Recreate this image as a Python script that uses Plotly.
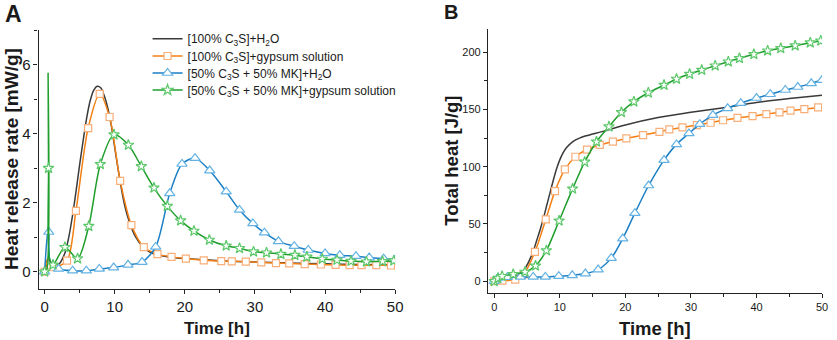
import plotly.graph_objects as go

# ---------------- DATA ----------------
names = ["[100% C<sub>3</sub>S]+H<sub>2</sub>O",
         "[100% C<sub>3</sub>S]+gypsum solution",
         "[50% C<sub>3</sub>S + 50% MK]+H<sub>2</sub>O",
         "[50% C<sub>3</sub>S + 50% MK]+gypsum solution"]

# Panel A: heat release rate [mW/g]
black_t_a = [0, 0.3, 0.5, 0.8, 1.2, 1.7, 2.2, 2.6, 3.0, 3.5, 4.0, 4.5, 5.0, 5.5, 6.0, 6.5, 7.0, 7.5, 8.0,
             8.5, 9.0, 9.5, 10.0, 10.5, 11.0, 11.5, 12.0, 12.5, 13.0, 14.0, 15.0, 16.0, 18.0, 20.0, 25.0,
             30.0, 35.0, 40.0, 45.0, 50.0]
black_a = [0, 0.25, 0.4, 0.3, 0.22, 0.18, 0.25, 0.4, 0.6, 1.05, 1.65, 2.35, 3.1, 3.8, 4.45, 4.95, 5.25,
           5.37, 5.33, 5.1, 4.75, 4.25, 3.6, 2.95, 2.35, 1.85, 1.5, 1.22, 1.0, 0.72, 0.57, 0.49, 0.42,
           0.38, 0.32, 0.28, 0.25, 0.23, 0.21, 0.2]

orange_t = [0, 1.25, 3.2, 4.47, 6.21, 7.86, 9.27, 10.78, 12.38, 14.15, 16.1, 18.1, 20.15, 22.7, 25.2,
            26.7, 28.7, 30.9, 33.0, 34.9, 37.1, 39.4, 41.5, 43.5, 45.2, 47.3, 49.4]
orange_a = [0, 0.13, 0.32, 1.76, 4.16, 5.15, 4.48, 2.63, 1.35, 0.71, 0.51, 0.43, 0.38, 0.33, 0.31,
            0.30, 0.29, 0.27, 0.25, 0.24, 0.22, 0.21, 0.20, 0.19, 0.19, 0.19, 0.18]
orange_xt_a = [0.3, 0.5, 0.8, 50.0]
orange_xv_a = [0.25, 0.38, 0.25, 0.18]

blue_t = [0, 0.6, 2.0, 4.0, 5.95, 7.8, 9.85, 11.9, 13.9, 15.85, 17.85, 19.6, 21.45, 23.55, 25.9, 27.8,
          29.7, 31.35, 33.35, 35.6, 37.6, 40.0, 42.1, 44.4, 46.3, 48.35, 50.0]
blue_a = [0, 1.15, 0.08, 0.03, 0.03, 0.08, 0.12, 0.2, 0.28, 0.72, 2.27, 3.12, 3.29, 2.93, 2.32, 1.79,
          1.4, 1.13, 0.88, 0.74, 0.63, 0.53, 0.48, 0.45, 0.41, 0.38, 0.35]
blue_xt_a = [0.5, 0.85]
blue_xv_a = [1.3, 0.25]

green_t = [0, 0.56, 1.2, 2.9, 4.7, 6.3, 7.95, 9.9, 11.95, 13.8, 15.6, 17.5, 19.4, 21.3, 23.5, 25.9,
           27.8, 29.8, 31.65, 33.7, 35.7, 37.4, 39.6, 41.7, 43.7, 45.9, 48.2, 49.8]
green_a = [0, 3.0, 0.2, 0.71, 0.38, 1.32, 3.11, 3.97, 3.67, 3.05, 2.43, 1.9, 1.48, 1.18, 0.92, 0.75,
           0.68, 0.58, 0.55, 0.51, 0.48, 0.43, 0.37, 0.34, 0.31, 0.29, 0.30, 0.32]
green_xt_a = [0.3, 0.5, 0.68]
green_xv_a = [0.05, 5.75, 0.4]

# Panel B: total heat [J/g]
black_t_b = [0, 1, 2, 3, 4, 4.5, 5, 5.5, 6, 6.5, 7, 7.5, 8, 8.5, 9, 9.5, 10, 10.5, 11, 12, 13, 14, 15,
             17, 20, 25, 30, 35, 40, 45, 50]
black_b = [0, 2, 3, 4, 6.5, 9.5, 14, 20, 27, 36, 45, 55, 66, 77, 88, 98, 106, 112, 116.5, 122, 125,
           127, 128.5, 131.5, 136.5, 143, 147.5, 151.5, 156, 159.5, 162.5]
orange_b = [0, 0.5, 1.5, 6, 25.6, 54, 78.7, 97.6, 108.7, 115, 119, 122, 124.7, 127.6, 130.5, 132.6,
            134.3, 136.4, 138.4, 140.6, 142.6, 144.2, 146, 147.5, 148.9, 150.3, 151.8]
orange_xt_b = [50.0]
orange_xv_b = [152.0]
blue_b = [0, 3, 3.5, 3.8, 3.8, 3.8, 4.4, 5.2, 6.7, 10.2, 20.2, 37.3, 59.5, 83.6, 105.8, 119.5, 129.1,
          137.2, 145.1, 151, 155.5, 160, 163.3, 167, 169.6, 172.8, 175.7]
green_b = [0, 2.5, 4.4, 6.1, 8.1, 13.5, 26.8, 52.8, 80.7, 104.2, 121.8, 135, 147.5, 156.8, 164.6,
           171.3, 176.6, 180.9, 184.4, 188.2, 191.7, 194.7, 198.2, 201.3, 203.4, 205.7, 208.3, 210]

# ---------------- STYLE ----------------
W, H = 837, 340
FONT = "Arial, Liberation Sans, sans-serif"
line_cols = ["#3a3a3a", "#f47f12", "#1a7fc4", "#1f9e2c"]
mk_cols = [None, "#f9ae78", "#63b2e3", "#5cc86a"]
symbols = [None, "square", "triangle-up", "star"]
mk_sizes = [0, 7, 9, 8]
legend_ids = ["legend", "legend2", "legend3", "legend4"]
legend_y_px = [38.7, 56, 73, 90]


def merge(t1, v1, t2, v2):
    pts = sorted(zip(list(t1) + list(t2), list(v1) + list(v2)))
    return [p[0] for p in pts], [p[1] for p in pts]


fig = go.Figure()


def add_series(i, xaxis, yaxis, lt, lv, mt=None, mv=None):
    fig.add_trace(go.Scatter(x=lt, y=lv, mode="lines", xaxis=xaxis, yaxis=yaxis,
                             line=dict(color=line_cols[i], width=1.5, shape="spline", smoothing=0.8),
                             showlegend=False, hoverinfo="skip"))
    if mt is not None:
        fig.add_trace(go.Scatter(x=mt, y=mv, mode="markers", xaxis=xaxis, yaxis=yaxis,
                                 marker=dict(symbol=symbols[i], size=mk_sizes[i], color="white",
                                             line=dict(color=mk_cols[i], width=1.2)),
                                 showlegend=False, hoverinfo="skip"))


# Panel A
add_series(0, "x", "y", black_t_a, black_a)
lt, lv = merge(orange_t, orange_a, orange_xt_a, orange_xv_a)
add_series(1, "x", "y", lt, lv, orange_t, orange_a)
lt, lv = merge(blue_t, blue_a, blue_xt_a, blue_xv_a)
add_series(2, "x", "y", lt, lv, blue_t, blue_a)
lt, lv = merge(green_t, green_a, green_xt_a, green_xv_a)
add_series(3, "x", "y", lt, lv, green_t, green_a)

# Panel B
add_series(0, "x2", "y2", black_t_b, black_b)
lt, lv = merge(orange_t, orange_b, orange_xt_b, orange_xv_b)
add_series(1, "x2", "y2", lt, lv, orange_t, orange_b)
add_series(2, "x2", "y2", blue_t, blue_b, blue_t, blue_b)
add_series(3, "x2", "y2", green_t, green_b, green_t, green_b)


def px_x(p):
    return p / W


def px_y(p):
    return 1 - p / H


# Legend entries (one legend box per entry for exact spacing)
legend_layout = {}
for i, nm in enumerate(names):
    if i == 0:
        fig.add_trace(go.Scatter(x=[None], y=[None], mode="lines", name=nm, legend=legend_ids[i],
                                 line=dict(color=line_cols[i], width=1.5)))
    else:
        fig.add_trace(go.Scatter(x=[None], y=[None], mode="lines+markers", name=nm, legend=legend_ids[i],
                                 line=dict(color=line_cols[i], width=1.5),
                                 marker=dict(symbol=symbols[i], size=mk_sizes[i], color="white",
                                             line=dict(color=mk_cols[i], width=1.2))))
    legend_layout[legend_ids[i]] = dict(
        x=px_x(149), y=px_y(legend_y_px[i]), xanchor="left", yanchor="middle",
        bgcolor="rgba(0,0,0,0)", font=dict(size=12, family=FONT, color="#1a1a1a"),
        itemwidth=30, borderwidth=0)

axis_common = dict(showgrid=False, zeroline=False, showline=True, linecolor="#222", linewidth=1.3,
                   ticks="outside", ticklen=4, tickwidth=1.2, tickcolor="#222")

fig.update_layout(
    width=W, height=H, margin=dict(l=0, r=0, t=0, b=0),
    paper_bgcolor="white", plot_bgcolor="white",
    font=dict(family=FONT, color="#1a1a1a"),
    xaxis=dict(domain=[px_x(39), px_x(399)], range=[-0.85, 50], tick0=0, dtick=10,
               minor=dict(dtick=5, ticks="outside", ticklen=3, tickcolor="#222"),
               tickfont=dict(size=15), anchor="y", **axis_common),
    yaxis=dict(domain=[px_y(289), px_y(30)], range=[-0.5, 7], tick0=0, dtick=2,
               minor=dict(dtick=1, ticks="outside", ticklen=3, tickcolor="#222"),
               tickfont=dict(size=15), anchor="x", **axis_common),
    xaxis2=dict(domain=[px_x(492.7), px_x(830)], range=[-0.95, 50], tick0=0, dtick=10,
                minor=dict(dtick=5, ticks="outside", ticklen=3, tickcolor="#222"),
                tickfont=dict(size=11), anchor="y2", **axis_common),
    yaxis2=dict(domain=[px_y(292.7), px_y(29.3)], range=[-10, 220], tick0=0, dtick=50,
                minor=dict(dtick=25, ticks="outside", ticklen=3, tickcolor="#222"),
                tickfont=dict(size=11), anchor="x2", **axis_common),
    **legend_layout,
)

ann = [
    dict(text="<b>A</b>", x=px_x(3), y=px_y(14), xanchor="left", yanchor="middle", font=dict(size=23)),
    dict(text="<b>B</b>", x=px_x(446), y=px_y(12.5), xanchor="left", yanchor="middle", font=dict(size=20)),
    dict(text="<b>Time [h]</b>", x=px_x(219), y=px_y(328), xanchor="center", yanchor="middle", font=dict(size=17)),
    dict(text="<b>Heat release rate [mW/g]</b>", x=px_x(11), y=px_y(159), xanchor="center", yanchor="middle",
         textangle=-90, font=dict(size=19)),
    dict(text="<b>Time [h]</b>", x=px_x(661), y=px_y(328), xanchor="center", yanchor="middle", font=dict(size=18.5)),
    dict(text="<b>Total heat [J/g]</b>", x=px_x(455), y=px_y(161), xanchor="center", yanchor="middle",
         textangle=-90, font=dict(size=18.5)),
]
for a in ann:
    a.update(xref="paper", yref="paper", showarrow=False)
    fig.add_annotation(**a)

fig.write_html("out.html", config={"displayModeBar": False},
               post_script="document.body.style.margin='0';")
